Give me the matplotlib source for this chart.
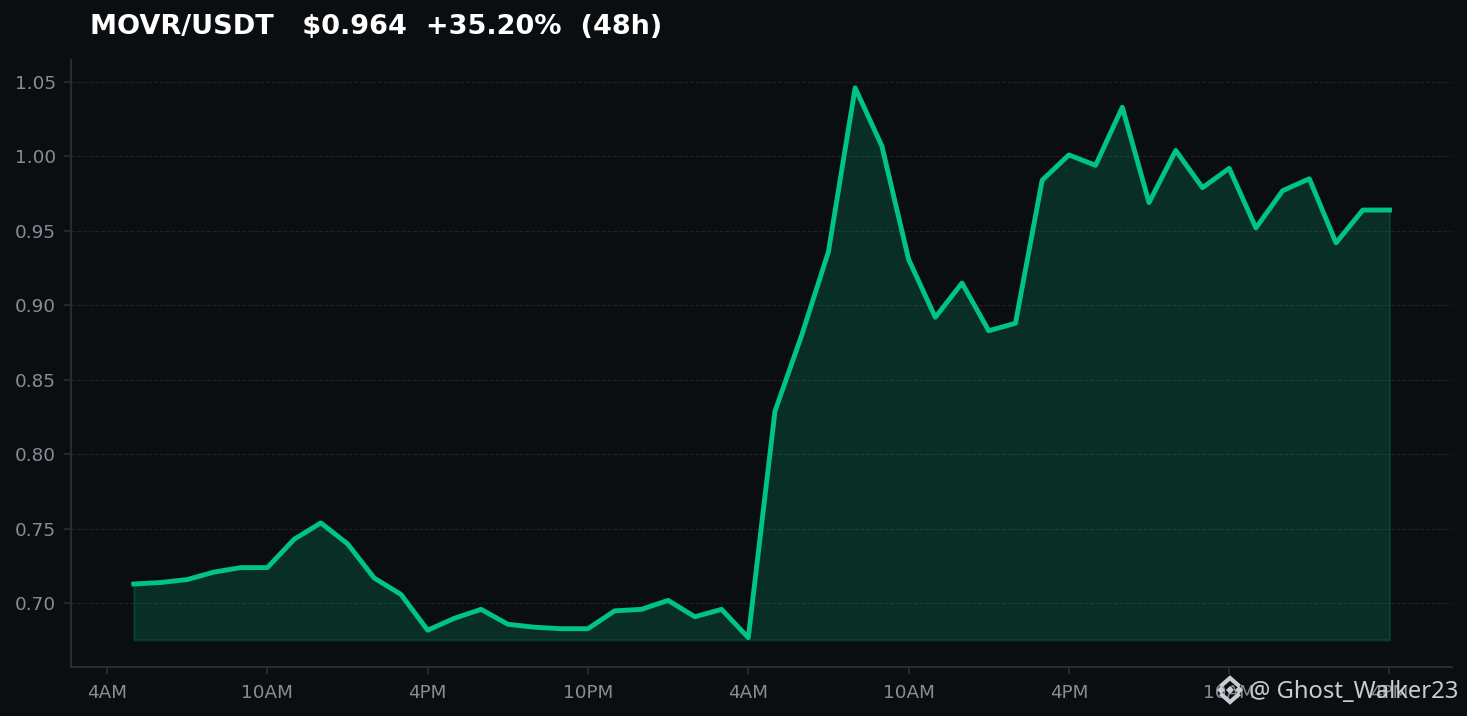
import matplotlib
matplotlib.use("Agg")
import matplotlib.pyplot as plt
from matplotlib.lines import Line2D

# hourly closes over 48h, first point is 5AM
hours = list(range(5, 53))
prices = [0.713, 0.714, 0.716, 0.721, 0.724, 0.724, 0.743, 0.754, 0.740, 0.717,
          0.706, 0.682, 0.690, 0.696, 0.686, 0.684, 0.683, 0.683, 0.695, 0.696,
          0.702, 0.691, 0.696, 0.677, 0.829, 0.880, 0.936, 1.046, 1.007, 0.931,
          0.892, 0.915, 0.883, 0.888, 0.984, 1.001, 0.994, 1.033, 0.969, 1.004,
          0.979, 0.992, 0.952, 0.977, 0.985, 0.942, 0.964, 0.964]
tick_hours = [4, 10, 16, 22, 28, 34, 40, 46, 52]
tick_labels = ["4AM", "10AM", "4PM", "10PM", "4AM", "10AM", "4PM", "10AM", "4PM"]
y_ticks = [0.70, 0.75, 0.80, 0.85, 0.90, 0.95, 1.00, 1.05]
fill_floor = 0.6755
title = "MOVR/USDT   $0.964  +35.20%  (48h)"

BG = "#0a0e11"
GREEN = "#00c486"
GREY = "#868d96"
EDGE = "#2b2f36"

W, H = 1467, 716
fig = plt.figure(figsize=(W / 100, H / 100), dpi=100, facecolor=BG)
ax = fig.add_axes([71 / W, 1 - 667 / H, (1452 - 71) / W, (667 - 60) / H], facecolor=BG)

ax.fill_between(hours, prices, fill_floor, color=GREEN, alpha=0.18, linewidth=1.5)
ax.plot(hours, prices, color=GREEN, linewidth=3.5)

ax.set_xlim(2.65, 54.34)
ax.set_ylim(0.6573, 1.0647)
ax.set_xticks(tick_hours)
ax.set_xticklabels(tick_labels)
ax.set_yticks(y_ticks)
ax.set_yticklabels([f"{v:.2f}" for v in y_ticks])
ax.tick_params(colors=GREY, labelsize=13.2, length=5, width=1.2, color=EDGE, pad=6)
ax.tick_params(axis="x", pad=7)
ax.grid(axis="y", color="#1e2227", linestyle="--", linewidth=0.8)
ax.set_axisbelow(True)
for side in ["top", "right"]:
    ax.spines[side].set_visible(False)
for side in ["left", "bottom"]:
    ax.spines[side].set_color(EDGE)
    ax.spines[side].set_linewidth(1.3)

fig.text(90 / W, 1 - 27.5 / H, title, color="white", fontsize=19.5, fontweight="bold",
         va="center", ha="left")

# watermark: small Binance style logo plus handle
logo = "#c9cdd1"
cx, cy = 1230, 690
for dx in [-9, 0, 9]:
    fig.add_artist(Line2D([(cx + dx) / W], [1 - cy / H], marker="D", markersize=3.8,
                          color=logo, markeredgewidth=0, transform=fig.transFigure))
for sign in [-1, 1]:
    fig.add_artist(Line2D([(cx - 8) / W, cx / W, (cx + 8) / W],
                          [1 - (cy + sign * 5) / H, 1 - (cy + sign * 12) / H, 1 - (cy + sign * 5) / H],
                          color=logo, linewidth=3, solid_joinstyle="miter",
                          transform=fig.transFigure))
fig.text(1249 / W, 1 - 692 / H, "@ Ghost_Walker23", color=logo, fontsize=17.1,
         family="Noto Sans", va="center", ha="left")

fig.savefig("out.png", dpi=100, facecolor=BG)
